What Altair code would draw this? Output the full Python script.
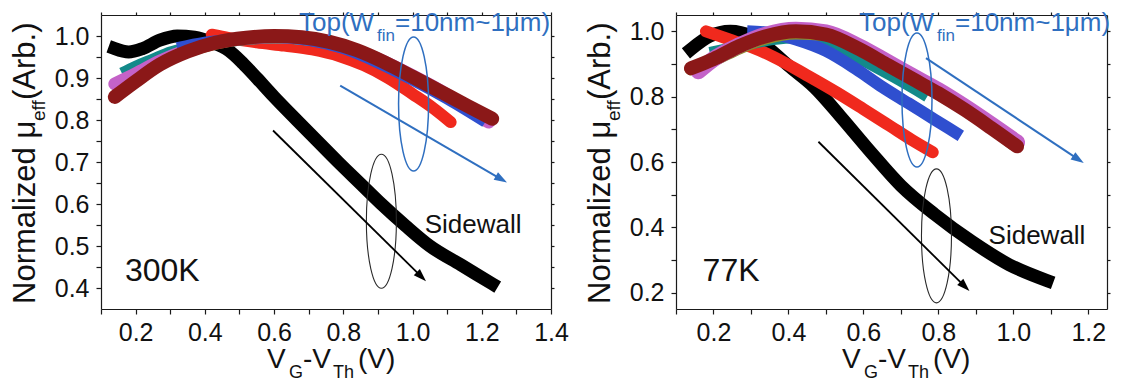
import math
import json
import altair as alt
import pandas as pd

FONT = "Liberation Sans"

# ---------------- 300 K panel data ----------------
sw300_x = [0.14, 0.18, 0.22, 0.27, 0.32, 0.37, 0.42, 0.47, 0.51, 0.55, 0.60, 0.665, 0.725, 0.785, 0.85, 0.91, 0.98, 1.05, 1.14, 1.23]
sw300_y = [0.970, 0.962, 0.970, 0.990, 1.000, 0.997, 0.985, 0.965, 0.935, 0.900, 0.855, 0.800, 0.750, 0.700, 0.648, 0.600, 0.548, 0.500, 0.455, 0.410]

red300_x = [0.42, 0.47, 0.55, 0.63, 0.71, 0.79, 0.86, 0.93, 1.00, 1.06, 1.11]
red300_y = [1.003, 0.995, 0.985, 0.977, 0.968, 0.952, 0.930, 0.900, 0.862, 0.828, 0.795]

teal300_x = [0.16, 0.20, 0.25, 0.30, 0.35, 0.42, 0.50, 0.60, 0.70, 0.80, 0.90, 1.00, 1.10, 1.20]
teal300_y = [0.912, 0.928, 0.945, 0.962, 0.972, 0.982, 0.990, 0.995, 0.990, 0.975, 0.945, 0.900, 0.855, 0.805]

olive300_x = [0.15, 0.20, 0.27, 0.35, 0.43, 0.52, 0.60, 0.70, 0.80, 0.90, 1.00, 1.10, 1.21]
olive300_y = [0.876, 0.903, 0.937, 0.964, 0.983, 0.995, 0.998, 0.993, 0.975, 0.944, 0.903, 0.858, 0.800]

mag300_x = [0.14, 0.20, 0.27, 0.35, 0.43, 0.52, 0.60, 0.70, 0.80, 0.90, 1.00, 1.10, 1.22]
mag300_y = [0.886, 0.910, 0.940, 0.966, 0.984, 0.995, 0.998, 0.993, 0.975, 0.945, 0.905, 0.860, 0.795]

blue300_x = [0.32, 0.40, 0.50, 0.60, 0.70, 0.80, 0.90, 1.00, 1.10, 1.21]
blue300_y = [0.972, 0.985, 0.994, 0.997, 0.990, 0.970, 0.936, 0.895, 0.850, 0.795]

wine300_x = [0.14, 0.20, 0.27, 0.35, 0.43, 0.52, 0.60, 0.68, 0.76, 0.84, 0.92, 1.00, 1.08, 1.16, 1.23]
wine300_y = [0.855, 0.892, 0.932, 0.963, 0.984, 0.996, 1.000, 0.997, 0.986, 0.966, 0.937, 0.903, 0.868, 0.833, 0.803]

# ---------------- 77 K panel data ----------------
sw77_x = [0.14, 0.19, 0.245, 0.30, 0.35, 0.40, 0.47, 0.54, 0.62, 0.70, 0.79, 0.89, 0.99, 1.09]
sw77_y = [0.945, 0.985, 1.000, 0.985, 0.945, 0.895, 0.828, 0.738, 0.630, 0.528, 0.440, 0.356, 0.285, 0.237]

red77_x = [0.18, 0.25, 0.30, 0.36, 0.45, 0.53, 0.60, 0.67, 0.73, 0.785]
red77_y = [1.000, 0.972, 0.952, 0.922, 0.865, 0.812, 0.762, 0.711, 0.667, 0.630]

teal77_x = [0.19, 0.25, 0.30, 0.36, 0.42, 0.50, 0.59, 0.68, 0.77]
teal77_y = [0.935, 0.950, 0.962, 0.975, 0.980, 0.960, 0.915, 0.860, 0.800]

blue77_x = [0.29, 0.35, 0.42, 0.50, 0.58, 0.65, 0.72, 0.79, 0.86]
blue77_y = [1.000, 0.995, 0.975, 0.940, 0.885, 0.830, 0.780, 0.730, 0.680]

olive77_x = [0.14, 0.20, 0.27, 0.34, 0.42, 0.50, 0.59, 0.70, 0.80, 0.90, 1.00]
olive77_y = [0.885, 0.912, 0.950, 0.980, 0.995, 0.990, 0.945, 0.875, 0.810, 0.740, 0.655]

mag77_x = [0.16, 0.20, 0.27, 0.34, 0.42, 0.50, 0.59, 0.66, 0.73, 0.80, 0.87, 0.94, 1.01]
mag77_y = [0.878, 0.915, 0.958, 0.990, 1.005, 0.997, 0.953, 0.909, 0.864, 0.820, 0.770, 0.716, 0.660]

wine77_x = [0.14, 0.20, 0.27, 0.34, 0.42, 0.50, 0.59, 0.66, 0.73, 0.80, 0.87, 0.94, 1.01]
wine77_y = [0.887, 0.915, 0.955, 0.985, 1.000, 0.990, 0.945, 0.900, 0.855, 0.810, 0.760, 0.705, 0.648]

# ---------------- axis ticks ----------------
x300_ticks = [0.1, 0.2, 0.3, 0.4, 0.5, 0.6, 0.7, 0.8, 0.9, 1.0, 1.1, 1.2, 1.3, 1.4]
x300_major = [0.2, 0.4, 0.6, 0.8, 1.0, 1.2, 1.4]
y300_ticks = [0.4, 0.45, 0.5, 0.55, 0.6, 0.65, 0.7, 0.75, 0.8, 0.85, 0.9, 0.95, 1.0]
y300_major = [0.4, 0.5, 0.6, 0.7, 0.8, 0.9, 1.0]
x77_ticks = [0.1, 0.2, 0.3, 0.4, 0.5, 0.6, 0.7, 0.8, 0.9, 1.0, 1.1, 1.2]
x77_major = [0.2, 0.4, 0.6, 0.8, 1.0, 1.2]
y77_ticks = [0.2, 0.3, 0.4, 0.5, 0.6, 0.7, 0.8, 0.9, 1.0]
y77_major = [0.2, 0.4, 0.6, 0.8, 1.0]

# ---------------- annotations (data coordinates) ----------------
ell300_blue = (1.003, 0.838)
ell300_black = (0.91, 0.559)
arr300_blue = (0.791, 0.882, 1.273, 0.651)
arr300_black = (0.597, 0.775, 1.039, 0.416)
side300 = (1.035, 0.551)
temp300 = (0.169, 0.44)

ell77_blue = (0.743, 0.79)
ell77_black = (0.795, 0.374)
arr77_blue = (0.767, 0.918, 1.188, 0.597)
arr77_black = (0.48, 0.662, 0.883, 0.205)
side77 = (0.934, 0.374)
temp77 = (0.171, 0.267)

BLACK = "#000000"
RED = "#f0291d"
TEAL = "#138a8a"
OLIVE = "#8d8d2a"
MAGENTA = "#c462c8"
BLUE = "#2f4fcf"
WINE = "#8b1818"
ANN_BLUE = "#2f6fc0"

ELLIPSE = "M0,-1A0.224,1,0,1,1,0,1A0.224,1,0,1,1,0,-1Z"
HEAD = "M0,-1L0.62,0.85L-0.62,0.85Z"

dummy = pd.DataFrame({"a": [0]})


def label_expr(major):
    return "indexof(" + json.dumps(major) + ", datum.value) >= 0 ? format(datum.value, '.1f') : ''"


def build_panel(series, width, height, xdom, ydom, xt, xm, yt, ym,
                ell_blue, ell_black, arr_blue, arr_black, side, temp, temp_text, top_x0):
    xs = alt.Scale(domain=xdom, nice=False, zero=False)
    ys = alt.Scale(domain=ydom, nice=False, zero=False)
    sx = width / (xdom[1] - xdom[0])
    sy = height / (ydom[1] - ydom[0])

    def pos(x, y):
        return dict(x=alt.X(datum=x, scale=xs, axis=None),
                    y=alt.Y(datum=y, scale=ys, axis=None))

    layers = []
    for i, (xv, yv, color, sw, cap) in enumerate(series):
        df = pd.DataFrame({"x": xv, "y": yv})
        if i == 0:
            xa = alt.Axis(orient="bottom", values=xt, labelExpr=label_expr(xm), labelPadding=6)
            ya = alt.Axis(orient="left", values=yt, labelExpr=label_expr(ym), labelPadding=7)
        elif i == 1:
            xa = alt.Axis(orient="top", values=xt, labels=False, tickSize=3)
            ya = alt.Axis(orient="right", values=yt, labels=False, tickSize=3)
        else:
            xa = None
            ya = None
        layers.append(
            alt.Chart(df).mark_line(color=color, strokeWidth=sw, strokeCap=cap,
                                    strokeJoin="round", interpolate="monotone")
            .encode(x=alt.X("x:Q", scale=xs, axis=xa), y=alt.Y("y:Q", scale=ys, axis=ya))
        )

    # ellipses
    for (cx, cy), col, w in ((ell_blue, ANN_BLUE, 1.5), (ell_black, "#2a2a2a", 1.1)):
        layers.append(
            alt.Chart(dummy).mark_point(shape=ELLIPSE, size=134 * 134, filled=False,
                                        color=col, strokeWidth=w, opacity=1)
            .encode(**pos(cx, cy))
        )

    # arrows
    head = 7.0
    for (x1, y1, x2, y2), col, w in ((arr_blue, ANN_BLUE, 2.0), (arr_black, BLACK, 1.8)):
        dxp = (x2 - x1) * sx
        dyp = -(y2 - y1) * sy
        L = math.hypot(dxp, dyp)
        ux, uy = dxp / L, dyp / L
        hx = x2 - ux * head / sx
        hy = y2 + uy * head / sy
        ang = math.degrees(math.atan2(ux, -uy)) % 360
        layers.append(
            alt.Chart(dummy).mark_rule(color=col, strokeWidth=w)
            .encode(x=alt.X(datum=x1, scale=xs, axis=None), y=alt.Y(datum=y1, scale=ys, axis=None),
                    x2=alt.X2(datum=hx), y2=alt.Y2(datum=hy))
        )
        layers.append(
            alt.Chart(dummy).mark_point(shape=HEAD, size=(2 * head) ** 2, filled=True,
                                        color=col, opacity=1, angle=ang)
            .encode(**pos(hx, hy))
        )

    # data-anchored texts
    layers.append(
        alt.Chart(dummy).mark_text(text="Sidewall", font=FONT, fontSize=26, color="#111",
                                   align="left", baseline="middle")
        .encode(**pos(side[0], side[1]))
    )
    layers.append(
        alt.Chart(dummy).mark_text(text=temp_text, font=FONT, fontSize=32, color="#111",
                                   align="left", baseline="middle")
        .encode(**pos(temp[0], temp[1]))
    )

    # pixel-anchored texts (titles with subscripts)
    def ptext(t, px, py, size, color="#111", angle=0):
        return (alt.Chart(dummy)
                .mark_text(text=t, font=FONT, fontSize=size, color=color, align="left",
                           baseline="alphabetic", angle=angle)
                .encode(x=alt.value(px), y=alt.value(py)))

    # Top(W_fin = 10nm~1um)
    layers.append(ptext("Top(W", top_x0, 16, 26, ANN_BLUE))
    layers.append(ptext("fin", top_x0 + 78, 26, 17, ANN_BLUE))
    layers.append(ptext("=10nm~1μm)", top_x0 + 96, 16, 26, ANN_BLUE))

    # x title: V_G-V_Th(V)
    layers.append(ptext("V", 166, 353, 28))
    layers.append(ptext("G", 188, 363, 18))
    layers.append(ptext("-V", 202, 353, 28))
    layers.append(ptext("Th", 232, 363, 18))
    layers.append(ptext("(V)", 257, 353, 28))

    # y title: Normalized mu_eff (Arb.)
    layers.append(ptext("Normalized μ", -66, 289, 31, angle=270))
    layers.append(ptext("eff", -56, 106, 19, angle=270))
    layers.append(ptext(" (Arb.)", -66, 85, 31, angle=270))

    return (alt.layer(*layers)
            .resolve_axis(x="independent", y="independent")
            .properties(width=width, height=height))


series300 = [
    (sw300_x, sw300_y, BLACK, 13, "square"),
    (red300_x, red300_y, RED, 12, "round"),
    (teal300_x, teal300_y, TEAL, 11, "butt"),
    (olive300_x, olive300_y, OLIVE, 13, "round"),
    (mag300_x, mag300_y, MAGENTA, 13, "round"),
    (blue300_x, blue300_y, BLUE, 11, "butt"),
    (wine300_x, wine300_y, WINE, 14, "round"),
]
series77 = [
    (sw77_x, sw77_y, BLACK, 13, "square"),
    (red77_x, red77_y, RED, 12, "round"),
    (teal77_x, teal77_y, TEAL, 11, "butt"),
    (blue77_x, blue77_y, BLUE, 12, "butt"),
    (olive77_x, olive77_y, OLIVE, 13, "round"),
    (mag77_x, mag77_y, MAGENTA, 16, "round"),
    (wine77_x, wine77_y, WINE, 14, "round"),
]

left = build_panel(series300, 450, 294, [0.1, 1.4], [0.35, 1.05],
                   x300_ticks, x300_major, y300_ticks, y300_major,
                   ell300_blue, ell300_black, arr300_blue, arr300_black,
                   side300, temp300, "300K", 198)
right = build_panel(series77, 431, 294, [0.1, 1.25], [0.15, 1.05],
                    x77_ticks, x77_major, y77_ticks, y77_major,
                    ell77_blue, ell77_black, arr77_blue, arr77_black,
                    side77, temp77, "77K", 183)

chart = (alt.hconcat(left, right, spacing=125, bounds="flush")
         .properties(padding={"left": 2, "top": 2, "right": 0, "bottom": 0}, background="white")
         .configure_view(stroke=None)
         .configure_axis(grid=False, domainColor="#1a1a1a", tickColor="#1a1a1a",
                         domainWidth=1.2, tickWidth=1.2, tickSize=5,
                         labelFont=FONT, labelFontSize=25, labelColor="#111",
                         labelFlush=False, labelOverlap=False, title=None))

chart.save("out.html", embed_options={"renderer": "svg", "actions": False})
